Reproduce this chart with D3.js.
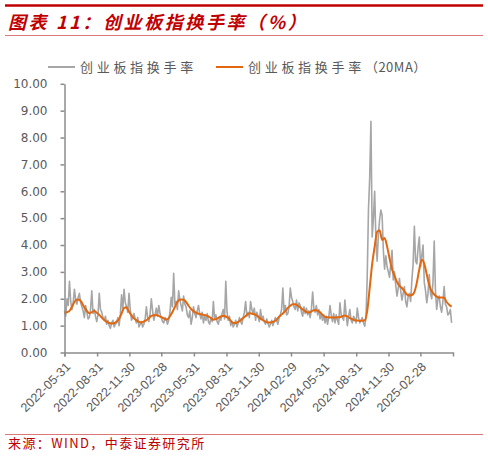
<!DOCTYPE html>
<html><head><meta charset="utf-8">
<script src="https://cdn.jsdelivr.net/npm/d3@7/dist/d3.min.js"></script>
<style>
html,body{margin:0;padding:0;background:#fff;}
svg{display:block;}
</style></head>
<body>
<svg id="chart" width="488" height="457"></svg>
<script>
// ---- data ----
const startDate = "2022-05-31";
// daily turnover, sampled twice a week (every 3.5 days)
const rawTurnover = [1.55,1.35,2.0,1.75,2.65,1.9,1.6,1.85,2.35,1.95,
1.8,2.05,2.2,1.85,1.7,1.55,1.3,1.75,1.5,1.25,
1.3,1.6,2.3,1.45,1.6,1.35,1.15,1.4,2.2,1.6,
1.5,1.3,1.2,1.35,1.05,1.2,1.0,0.9,1.1,1.2,
0.95,1.05,1.1,1.3,1.0,1.4,2.15,1.6,2.35,1.85,
1.7,1.5,2.2,1.6,1.2,1.3,1.45,1.25,1.1,1.3,
0.95,1.05,1.15,0.95,1.05,1.25,1.7,1.3,1.15,1.45,
2.0,1.55,1.2,1.4,1.65,1.35,1.75,1.45,1.3,1.15,
1.1,1.3,1.25,1.05,1.2,1.5,2.05,1.7,2.95,1.8,
1.9,1.6,2.3,1.95,1.75,1.55,2.1,1.8,1.7,1.4,
1.3,1.55,1.05,1.3,1.7,1.45,1.3,1.55,1.75,1.45,
1.25,1.5,1.1,1.35,1.2,1.45,1.15,1.05,1.3,1.15,
1.9,1.25,1.4,1.15,1.05,1.3,1.2,1.45,1.6,1.25,
2.65,1.5,1.2,1.35,1.0,1.15,0.95,1.05,1.2,0.95,
1.1,1.3,1.15,1.05,1.3,1.5,1.9,1.35,1.5,1.3,
1.9,1.6,1.45,1.65,1.2,1.5,1.35,1.15,1.6,1.25,
1.35,1.15,1.05,1.25,1.1,0.95,1.05,1.2,1.0,1.15,
1.3,1.2,1.05,1.3,1.4,1.6,2.4,1.5,1.75,1.4,
1.45,1.7,2.4,2.05,1.9,1.7,1.6,1.95,1.55,1.85,
1.75,1.5,1.35,1.7,1.45,1.65,1.4,1.55,1.3,1.6,
2.25,1.65,1.5,1.75,1.4,1.6,1.25,1.45,1.2,1.4,
1.1,1.35,1.05,1.3,1.75,1.4,1.15,1.45,1.1,1.4,
1.2,1.05,1.85,1.4,1.3,1.2,1.95,1.4,1.0,1.35,
1.6,1.2,1.1,1.35,1.25,1.1,1.65,1.3,1.1,1.2,
1.3,1.1,0.98,1.3,2.8,5.3,6.5,8.6,4.3,5.0,
6.0,4.2,3.4,4.4,4.95,5.3,5.1,3.8,3.1,3.6,
3.2,3.0,2.8,3.3,3.8,2.7,3.0,2.5,2.1,2.4,
2.75,2.3,1.95,2.2,2.45,1.9,1.7,2.1,2.2,1.9,
2.7,3.3,4.7,3.4,3.3,3.9,4.3,3.2,3.6,4.0,
2.6,2.3,1.85,2.2,2.9,2.2,2.0,2.6,4.15,2.3,
1.6,2.0,2.1,1.7,1.5,1.9,2.45,1.8,1.7,1.4,
1.45,1.6,1.1];
// 20-day moving average, sampled weekly
const ma20Turnover = [1.46,1.50,1.55,1.70,1.88,1.97,1.96,1.85,1.68,1.55,
1.46,1.50,1.54,1.48,1.40,1.30,1.21,1.14,1.10,1.08,
1.09,1.15,1.25,1.45,1.65,1.68,1.52,1.38,1.27,1.20,
1.14,1.12,1.16,1.20,1.28,1.36,1.39,1.40,1.36,1.32,
1.27,1.22,1.28,1.42,1.60,1.80,1.94,1.97,1.96,1.88,
1.74,1.62,1.54,1.48,1.44,1.42,1.40,1.38,1.34,1.28,
1.22,1.24,1.29,1.34,1.37,1.34,1.28,1.18,1.10,1.10,
1.14,1.20,1.28,1.36,1.44,1.46,1.43,1.40,1.34,1.26,
1.20,1.15,1.12,1.12,1.14,1.18,1.28,1.38,1.45,1.55,
1.66,1.74,1.80,1.80,1.74,1.68,1.60,1.54,1.49,1.50,
1.56,1.58,1.55,1.50,1.40,1.33,1.31,1.30,1.30,1.30,
1.31,1.31,1.35,1.38,1.34,1.28,1.24,1.20,1.19,1.18,
1.18,1.20,1.55,2.40,3.30,3.94,4.50,4.55,4.19,4.26,
3.95,3.50,3.10,2.85,2.62,2.48,2.40,2.28,2.16,2.12,
2.14,2.25,2.60,3.10,3.45,3.30,2.90,2.50,2.28,2.16,
2.08,2.04,2.05,2.04,1.88,1.78,1.71];
const xTickLabels = ["2022-05-31","2022-08-31","2022-11-30","2023-02-28","2023-05-31","2023-08-31",
"2023-11-30","2024-02-29","2024-05-31","2024-08-31","2024-11-30","2025-02-28"];
const xEnd = "2025-05-31";
const yTicks = [0,1,2,3,4,5,6,7,8,9,10];
const seriesNames = ["创业板指换手率","创业板指换手率"];
const titleText = "图表 11：创业板指换手率（%）";
const sourceText = "来源：WIND，中泰证券研究所";

// ---- drawing ----
const parse = d3.timeParse("%Y-%m-%d");
const t0 = parse(startDate);
const rawDates = rawTurnover.map((_, i) => d3.timeHour.offset(t0, 84 * i));
const maDates = ma20Turnover.map((_, i) => d3.timeDay.offset(t0, 7 * i));
const svg = d3.select("#chart");
const red = "#c00000";

svg.append("line").attr("x1",5).attr("x2",483).attr("y1",5.5).attr("y2",5.5)
  .attr("stroke",red).attr("stroke-width",2.5);
svg.append("text").attr("x",8).attr("y",29)
  .attr("font-family","'Noto Sans CJK SC'").attr("font-size",18).attr("font-weight","bold")
  .attr("font-style","italic").attr("letter-spacing",2.6).attr("fill",red).text(titleText);
svg.append("line").attr("x1",5).attr("x2",483).attr("y1",35.5).attr("y2",35.5)
  .attr("stroke","#d9777a").attr("stroke-width",1);

const x = d3.scaleTime().domain([t0, parse(xEnd)]).range([64.5, 453]);
const y = d3.scaleLinear().domain([0, 10]).range([352.5, 83.8]);

const axisColor = "#8c8c8c", textColor = "#595959";

// lines
svg.append("path").datum(rawTurnover)
  .attr("d", d3.line().x((d,i) => x(rawDates[i])).y(d => y(d)))
  .attr("fill","none").attr("stroke","#a6a6a6").attr("stroke-width",1.6).attr("stroke-linejoin","round");
svg.append("path").datum(ma20Turnover)
  .attr("d", d3.line().x((d,i) => x(maDates[i])).y(d => y(d)).curve(d3.curveMonotoneX))
  .attr("fill","none").attr("stroke","#e2670f").attr("stroke-width",2).attr("stroke-linejoin","round");

// y axis
const gy = svg.append("g").attr("transform","translate(64.5,0)")
  .call(d3.axisLeft(y).tickValues(yTicks).tickFormat(d3.format(".2f")).tickSize(4).tickSizeOuter(0).tickPadding(13));
gy.selectAll("path,line").attr("stroke",axisColor).attr("stroke-width",1.5);
gy.selectAll("text").attr("font-family","'DejaVu Sans'").attr("font-size",12).attr("fill",textColor);

// x axis
const tickDates = xTickLabels.map(parse);
const gx = svg.append("g").attr("transform","translate(0,352.5)")
  .call(d3.axisBottom(x).tickValues(tickDates).tickFormat(d3.timeFormat("%Y-%m-%d")).tickSize(4).tickSizeOuter(4));
gx.selectAll("path,line").attr("stroke",axisColor).attr("stroke-width",1.5);
gx.selectAll("text").attr("font-family","'Liberation Sans'").attr("font-size",12.5).attr("fill",textColor)
  .attr("text-anchor","end").attr("x",0).attr("y",0).attr("dy","0.35em")
  .attr("transform","translate(3,12) rotate(-45)");

// legend
const lg = svg.append("g");
lg.append("line").attr("x1",48).attr("x2",75).attr("y1",67).attr("y2",67).attr("stroke","#a6a6a6").attr("stroke-width",2);
lg.append("text").attr("x",80).attr("y",71.5).attr("font-family","'Noto Sans CJK SC'").attr("font-size",13)
  .attr("letter-spacing",3.7).attr("fill",textColor).text(seriesNames[0]);
lg.append("line").attr("x1",216).attr("x2",243).attr("y1",67).attr("y2",67).attr("stroke","#e2670f").attr("stroke-width",2);
const t2 = lg.append("text").attr("x",248).attr("y",71.5).attr("font-family","'Noto Sans CJK SC'").attr("font-size",13).attr("fill",textColor);
t2.append("tspan").attr("letter-spacing",3.7).text(seriesNames[1]);
t2.append("tspan").attr("letter-spacing",0.5).text("（20MA）");

// source
svg.append("line").attr("x1",5).attr("x2",483).attr("y1",434.5).attr("y2",434.5).attr("stroke","#d9777a").attr("stroke-width",1);
svg.append("text").attr("x",8).attr("y",448).attr("font-family","'Noto Sans CJK SC'").attr("font-size",13)
  .attr("letter-spacing",1.4).attr("fill",red).text(sourceText);
</script>
</body></html>
